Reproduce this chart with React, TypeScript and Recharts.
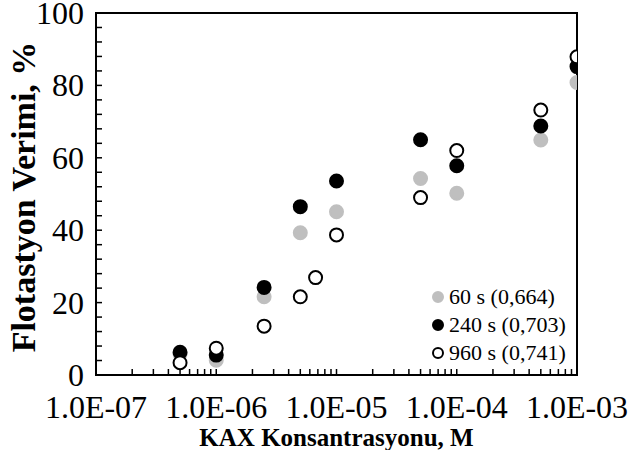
import React from 'react';
import { ScatterChart, Scatter, XAxis, YAxis, ReferenceArea } from 'recharts';

// KAX concentration (M) for the 60 s and 240 s runs
const concentrations = [5e-7, 1e-6, 2.5e-6, 5e-6, 1e-5, 5e-5, 1e-4, 5e-4, 1e-3];
// 960 s run has one extra point
const concentrations960 = [5e-7, 1e-6, 2.5e-6, 5e-6, 6.7e-6, 1e-5, 5e-5, 1e-4, 5e-4, 1e-3];

const recovery60 = [5.8, 4.1, 21.6, 39.3, 45.1, 54.3, 50.2, 64.9, 80.8];
const recovery240 = [6.3, 5.5, 24.2, 46.5, 53.6, 65.0, 57.8, 68.8, 85.2];
const recovery960 = [3.4, 7.4, 13.5, 21.6, 26.9, 38.7, 49.0, 62.0, 73.2, 87.9];

const seriesNames = ['60 s (0,664)', '240 s (0,703)', '960 s (0,741)'];

const xMajorTicks = [1e-7, 1e-6, 1e-5, 1e-4, 1e-3];
const yMajorTicks = [0, 20, 40, 60, 80, 100];

const FONT = "'Liberation Serif', 'Times New Roman', serif";

const xTicks: number[] = [];
xMajorTicks.forEach((t, i) => {
  xTicks.push(t);
  if (i < xMajorTicks.length - 1) {
    for (let k = 2; k <= 9; k++) xTicks.push(t * k);
  }
});
const yTicks: number[] = [];
for (let v = 0; v <= 100; v += 4) yTicks.push(v);

const toPoints = (xs: number[], ys: number[]) => xs.map((x, i) => ({ x, y: ys[i] }));
const data60 = toPoints(concentrations, recovery60);
const data240 = toPoints(concentrations, recovery240);
const data960 = toPoints(concentrations960, recovery960);

function fmtExp(v: number) {
  const [m, e] = v.toExponential(1).split('e');
  const n = parseInt(e, 10);
  return `${m}E${n < 0 ? '-' : '+'}${String(Math.abs(n)).padStart(2, '0')}`;
}

const isMajorX = (v: number) => xMajorTicks.some((t) => Math.abs(t - v) / t < 1e-6);

function XTick(props: any) {
  const { x, y, payload } = props;
  const major = isMajorX(payload.value);
  return (
    <g>
      <line x1={x} x2={x} y1={y} y2={y - 6} stroke="#000" strokeWidth={1.5} />
      {major && (
        <text x={x} y={y + 43} textAnchor="middle" fontFamily={FONT} fontSize={32} fill="#000">
          {fmtExp(payload.value)}
        </text>
      )}
    </g>
  );
}

function YTick(props: any) {
  const { x, y, payload } = props;
  const major = yMajorTicks.includes(payload.value);
  return (
    <g>
      <line x1={x} x2={x + 6} y1={y} y2={y} stroke="#000" strokeWidth={1.5} />
      {major && (
        <text x={x - 12} y={y + 11} textAnchor="end" fontFamily={FONT} fontSize={32} fill="#000">
          {payload.value}
        </text>
      )}
    </g>
  );
}

const dot = (fill: string, stroke: string) => (props: any) => (
  <circle cx={props.cx} cy={props.cy} r={6.5} fill={fill} stroke={stroke} strokeWidth={2} />
);

const markerStyles = [
  { fill: '#bfbfbf', stroke: '#bfbfbf' },
  { fill: '#000000', stroke: '#000000' },
  { fill: '#ffffff', stroke: '#000000' },
];

export default function App() {
  return (
    <div style={{ position: 'absolute', left: 0, top: 0, width: 640, height: 450, background: '#fff' }}>
      <ScatterChart width={640} height={450} margin={{ top: 13, right: 63, left: 0, bottom: 0 }}>
        <XAxis
          dataKey="x"
          type="number"
          scale="log"
          domain={[1e-7, 1e-3]}
          ticks={xTicks}
          interval={0}
          tickSize={0}
          tickMargin={0}
          tick={<XTick />}
          height={75}
          axisLine={{ stroke: '#000', strokeWidth: 2 }}
          tickLine={false}
          allowDataOverflow
          label={(p: any) => {
            const vb = p.viewBox;
            return (
              <text x={vb.x + vb.width / 2} y={vb.y + 71} textAnchor="middle" fontFamily={FONT} fontWeight="bold" fontSize={25} fill="#000">
                KAX Konsantrasyonu, M
              </text>
            );
          }}
        />
        <YAxis
          dataKey="y"
          type="number"
          domain={[0, 100]}
          ticks={yTicks}
          interval={0}
          tickSize={0}
          tickMargin={0}
          tick={<YTick />}
          width={96}
          axisLine={{ stroke: '#000', strokeWidth: 2 }}
          tickLine={false}
          label={(p: any) => {
            const vb = p.viewBox;
            const cx = vb.x + 35;
            const cy = vb.y + vb.height / 2 + 3;
            return (
              <text x={cx} y={cy} transform={`rotate(-90 ${cx} ${cy})`} textAnchor="middle" fontFamily={FONT} fontWeight="bold" fontSize={34} fill="#000">
                Flotastyon Verimi, %
              </text>
            );
          }}
        />
        <ReferenceArea x1={1e-7} x2={1e-3} y1={0} y2={100} fill="none" stroke="#000" strokeWidth={2} ifOverflow="visible" />
        <Scatter name={seriesNames[0]} data={data60} shape={dot('#bfbfbf', '#bfbfbf')} isAnimationActive={false} />
        <Scatter name={seriesNames[1]} data={data240} shape={dot('#000000', '#000000')} isAnimationActive={false} />
        <Scatter name={seriesNames[2]} data={data960} shape={dot('#ffffff', '#000000')} isAnimationActive={false} />
      </ScatterChart>
      <svg style={{ position: 'absolute', left: 425, top: 282 }} width={150} height={90}>
        {seriesNames.map((name, i) => (
          <g key={name}>
            <circle cx={13} cy={15 + i * 28} r={5} fill={markerStyles[i].fill} stroke={markerStyles[i].stroke} strokeWidth={2} />
            <text x={24} y={22 + i * 28} fontFamily={FONT} fontSize={22} fill="#000">
              {name}
            </text>
          </g>
        ))}
      </svg>
    </div>
  );
}
